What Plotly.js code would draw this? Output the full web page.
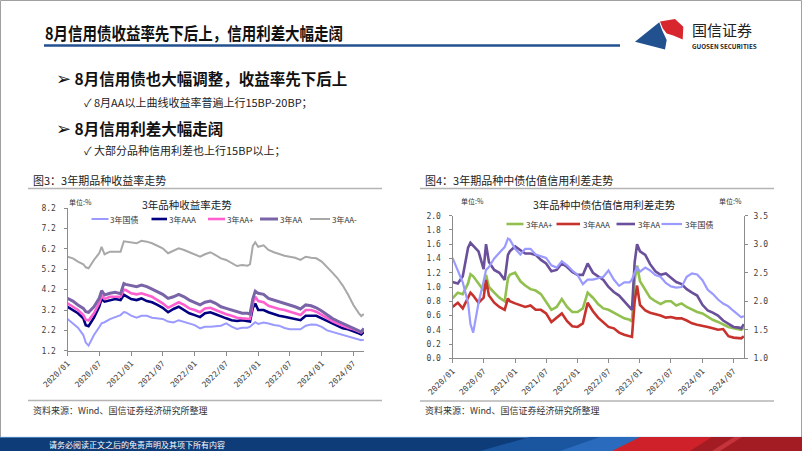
<!DOCTYPE html>
<html>
<head>
<meta charset="utf-8">
<script src="https://cdn.plot.ly/plotly-3.0.1.min.js"></script>
<style>html,body{margin:0;padding:0;background:#fff;}#chart{width:802px;height:451px;}</style>
</head>
<body>
<div id="chart"></div>
<script>
// ---------------- DATA ----------------
const dates = ['2020-01-01','2020-02-01','2020-03-01','2020-04-01','2020-04-15','2020-05-01','2020-06-01','2020-07-01','2020-07-15','2020-08-01','2020-09-01','2020-10-01','2020-11-01','2020-11-20','2020-12-01',
'2021-01-01','2021-02-01','2021-03-01','2021-04-01','2021-05-01','2021-06-01','2021-07-01','2021-08-01','2021-09-01','2021-10-01','2021-11-01','2021-12-01',
'2022-01-01','2022-02-01','2022-03-01','2022-04-01','2022-05-01','2022-06-01','2022-07-01','2022-08-01','2022-09-01','2022-10-01','2022-11-01','2022-11-15','2022-12-01','2022-12-15',
'2023-01-01','2023-02-01','2023-03-01','2023-04-01','2023-05-01','2023-06-01','2023-07-01','2023-08-01','2023-09-01','2023-10-01','2023-11-01','2023-12-01',
'2024-01-01','2024-02-01','2024-03-01','2024-04-01','2024-05-01','2024-06-01','2024-07-01','2024-08-01','2024-08-15','2024-08-30'];

// 3-year yields (%), left chart
const treasury3y = [2.76,2.54,2.33,1.97,1.6,1.45,1.97,2.35,2.55,2.6,2.75,2.85,2.95,3.1,3.08,
2.92,2.82,2.92,2.92,2.82,2.79,2.76,2.63,2.59,2.7,2.63,2.54,
2.46,2.3,2.38,2.38,2.41,2.43,2.54,2.38,2.27,2.33,2.33,2.38,2.5,2.6,
2.52,2.59,2.54,2.46,2.43,2.32,2.26,2.24,2.25,2.43,2.49,2.47,
2.37,2.2,2.13,2.03,1.96,1.91,1.83,1.75,1.72,1.74];
const yieldAAA = [3.36,3.2,3.04,2.79,2.45,2.4,2.82,3.36,3.75,3.61,3.69,3.74,3.69,3.95,3.9,
3.74,3.69,3.77,3.64,3.58,3.45,3.31,3.09,3.25,3.36,3.2,3.04,
2.95,2.85,3.04,3.09,2.99,2.87,2.79,2.7,2.66,2.7,2.63,2.63,3.3,3.52,
3.2,3.2,3.09,2.99,2.92,2.87,2.82,2.76,2.7,2.92,2.92,2.92,
2.79,2.66,2.54,2.43,2.3,2.25,2.17,2.05,2.0,2.13];
const yieldAAplus = [3.53,3.36,3.2,2.95,2.72,2.68,3.04,3.53,3.9,3.74,3.85,3.85,3.85,4.2,4.18,
4.02,3.97,4.02,3.94,3.85,3.69,3.53,3.31,3.45,3.58,3.45,3.28,
3.2,3.09,3.28,3.31,3.2,3.09,2.99,2.92,2.82,2.79,2.76,2.76,3.5,3.85,
3.64,3.58,3.41,3.31,3.25,3.2,3.12,3.04,2.95,3.2,3.2,3.12,
2.95,2.79,2.66,2.54,2.43,2.33,2.25,2.13,2.1,2.22];
const yieldAA = [3.77,3.64,3.45,3.28,3.12,3.09,3.36,3.77,4.15,3.94,4.02,4.07,4.0,4.5,4.46,
4.4,4.35,4.43,4.35,4.23,4.1,3.97,3.77,3.85,3.97,3.85,3.69,
3.58,3.45,3.58,3.64,3.53,3.36,3.28,3.2,3.09,3.04,3.04,3.0,3.75,4.13,
4.02,3.97,3.77,3.69,3.61,3.53,3.45,3.36,3.25,3.45,3.41,3.31,
3.15,2.95,2.79,2.66,2.54,2.41,2.3,2.17,2.13,2.3];
const yieldAAminus = [5.82,5.74,5.58,5.45,5.3,5.25,5.66,5.99,6.3,5.94,6.07,6.07,6.07,6.58,6.56,
6.51,6.48,6.6,6.56,6.48,6.36,6.23,5.99,6.1,6.23,6.15,6.04,
5.9,5.82,5.94,6.04,5.9,5.74,5.66,5.5,5.36,5.41,5.38,5.45,6.35,6.53,
6.31,6.38,6.15,6.04,5.94,5.87,5.82,5.77,5.66,5.82,5.77,5.74,
5.58,5.33,5.05,4.76,4.4,3.95,3.45,3.05,2.9,3.0];

// 3-year credit spreads (%), right chart
const spreadAAplus = [0.84,0.92,0.9,1.05,1.18,1.15,1.05,0.95,1.17,1.0,0.92,0.85,0.8,1.12,1.17,
1.2,1.08,1.02,0.97,0.95,0.9,0.8,0.68,0.72,0.83,0.72,0.65,
0.65,0.7,0.92,0.85,0.76,0.7,0.68,0.64,0.6,0.56,0.54,0.52,1.1,1.3,
1.08,0.95,0.85,0.8,0.76,0.8,0.8,0.74,0.77,0.72,0.68,0.65,
0.63,0.58,0.54,0.51,0.47,0.44,0.42,0.4,0.4,0.43];
const spreadAAA = [0.72,0.78,0.7,0.85,0.92,0.88,0.78,0.85,1.1,0.88,0.78,0.72,0.68,0.84,0.8,
0.77,0.74,0.72,0.74,0.68,0.68,0.63,0.51,0.57,0.63,0.52,0.45,
0.44,0.49,0.78,0.66,0.57,0.5,0.44,0.42,0.36,0.33,0.31,0.3,0.8,1.02,
0.75,0.67,0.64,0.62,0.6,0.57,0.58,0.56,0.56,0.53,0.49,0.47,
0.46,0.44,0.42,0.4,0.41,0.31,0.29,0.28,0.28,0.31];
const spreadAA = [1.07,1.05,1.15,1.55,1.62,1.58,1.5,1.25,1.6,1.35,1.24,1.2,1.1,1.45,1.5,
1.57,1.52,1.47,1.47,1.45,1.38,1.33,1.22,1.24,1.33,1.28,1.21,
1.17,1.17,1.33,1.2,1.15,1.1,1.0,0.93,0.88,0.8,0.72,0.68,1.35,1.6,
1.5,1.45,1.32,1.22,1.17,1.19,1.13,1.07,1.04,0.97,0.92,0.88,
0.75,0.67,0.64,0.6,0.53,0.48,0.44,0.43,0.42,0.48];

const leftNames = ['3年国债','3年AAA','3年AA+','3年AA','3年AA-'];
const rightNames = ['3年AA+','3年AAA','3年AA','3年国债'];
const leftYTicks = [1.2,2.2,3.2,4.2,5.2,6.2,7.2,8.2];
const rightYTicks = [0.0,0.2,0.4,0.6,0.8,1.0,1.2,1.4,1.6,1.8,2.0];
const right2YTicks = [1.0,1.5,2.0,2.5,3.0,3.5];

// ---------------- STYLE ----------------
const W = 802, H = 451;
const px = v => v / W;
const py = v => 1 - v / H;
const CJK = '"Noto Sans CJK SC", "DejaVu Sans", sans-serif';
const MONO = '"DejaVu Sans Mono", "Liberation Mono", monospace';

const leftColors = ['#9a9aff','#000080','#ff5fcf','#7a64a8','#a8a8a8'];
const leftWidths = [2, 2.6, 2.6, 3, 2];
const rightColors = ['#92c04f','#c8322d','#6a4f9b','#9a9aff'];
const rightWidths = [2.6, 2.6, 2.6, 2.2];

const leftSeries = [treasury3y, yieldAAA, yieldAAplus, yieldAA, yieldAAminus];
const rightSeries = [spreadAAplus, spreadAAA, spreadAA, treasury3y];

const traces = [];
leftSeries.forEach((s, i) => traces.push({
  x: dates, y: s, name: leftNames[i], xaxis: 'x', yaxis: 'y', mode: 'lines',
  line: {color: leftColors[i], width: leftWidths[i]}, hoverinfo: 'skip'
}));
rightSeries.forEach((s, i) => traces.push({
  x: dates, y: s, name: rightNames[i], xaxis: 'x2', yaxis: i === 3 ? 'y3' : 'y2', mode: 'lines',
  line: {color: rightColors[i], width: rightWidths[i]}, hoverinfo: 'skip'
}));

const tickFont = {family: MONO, size: 8, color: '#404040'};
const axisCommon = {showgrid: false, zeroline: false, showline: true, linecolor: '#8c8c8c', linewidth: 1,
  ticks: 'outside', ticklen: 3, tickcolor: '#8c8c8c', tickfont: tickFont, fixedrange: true};
const dateAxis = Object.assign({}, axisCommon, {type: 'date', range: ['2020-01-01', '2024-08-31'],
  tickmode: 'linear', tick0: '2020-01-01', dtick: 'M6', tickformat: '%Y/%m', tickangle: -45, ticklen: 4});

const layout = {
  width: W, height: H, margin: {l: 0, r: 0, t: 0, b: 0},
  paper_bgcolor: '#ffffff', plot_bgcolor: '#ffffff', showlegend: false,
  xaxis: Object.assign({}, dateAxis, {domain: [px(67.5), px(364)], anchor: 'y'}),
  yaxis: Object.assign({}, axisCommon, {domain: [py(350.7), py(208.3)], range: [1.2, 8.2], anchor: 'x',
    tickmode: 'array', tickvals: leftYTicks, tickformat: '.1f', ticklabelstandoff: 6}),
  xaxis2: Object.assign({}, dateAxis, {domain: [px(452.5), px(744)], anchor: 'y2'}),
  yaxis2: Object.assign({}, axisCommon, {domain: [py(358.3), py(215.7)], range: [0, 2], anchor: 'x2',
    tickmode: 'array', tickvals: rightYTicks, tickformat: '.1f', ticklabelstandoff: 6}),
  yaxis3: Object.assign({}, axisCommon, {range: [1, 3.5], anchor: 'x2', overlaying: 'y2', side: 'right',
    tickmode: 'array', tickvals: right2YTicks, tickformat: '.1f', ticklabelstandoff: 4}),
  annotations: [], shapes: []
};

function txt(text, x, y, size, color, anchor, bold) {
  layout.annotations.push({text: text, x: px(x), y: py(y), xref: 'paper', yref: 'paper',
    xanchor: anchor || 'left', yanchor: 'middle', align: anchor || 'left', showarrow: false, borderpad: 0,
    font: {family: CJK, size: size, color: color || '#222', weight: bold ? 'bold' : 'normal'}});
}
function line(x0, y0, x1, y1, color, width) {
  layout.shapes.push({type: 'line', xref: 'paper', yref: 'paper', x0: px(x0), y0: py(y0), x1: px(x1), y1: py(y1),
    line: {color: color, width: width}});
}
function poly(pts, fill) {
  const d = pts.map((p, i) => (i ? 'L' : 'M') + px(p[0]).toFixed(5) + ',' + py(p[1]).toFixed(5)).join(' ') + ' Z';
  layout.shapes.push({type: 'path', xref: 'paper', yref: 'paper', path: d, fillcolor: fill, line: {width: 0}});
}

// slide frame
layout.shapes.push({type: 'rect', xref: 'paper', yref: 'paper', x0: px(0.5), y0: py(450.5), x1: px(801.5), y1: py(0.5),
  line: {color: '#a0a0a0', width: 1}});

// header
const slideTitle = '8月信用债收益率先下后上，信用利差大幅走阔';
txt(slideTitle, 44, 32.5, 17.5, '#111', 'left', true);
line(44, 45.5, 620, 45.5, '#23508e', 2.6);
// logo
poly([[635, 41.7], [659.3, 22.3], [662, 30], [666.7, 40], [665, 49.5]], '#22518f');
poly([[660, 21.5], [675, 19], [683.3, 26.7], [682.7, 39.5], [673.3, 35.5], [666.7, 33.5], [662.7, 28.3]], '#d7262e');
txt('国信证券', 691, 29.5, 15, '#222', 'left', false);
txt('GUOSEN SECURITIES', 691, 46.5, 6.3, '#222', 'left', true);

// bullets
const arrow = '<span style="font-size:18px">➢</span>';
txt(arrow + ' 8月信用债也大幅调整，收益率先下后上', 55, 77, 15.5, '#111', 'left', true);
txt('✓ 8月AA以上曲线收益率普遍上行15BP-20BP；', 83, 101.5, 11, '#222', 'left', false);
txt(arrow + ' 8月信用利差大幅走阔', 55, 126.5, 15.5, '#111', 'left', true);
txt('✓ 大部分品种信用利差也上行15BP以上；', 83, 150, 11, '#222', 'left', false);

// figure headers / separators / sources
txt('图3：3年期品种收益率走势', 32, 180, 11, '#222');
txt('图4：3年期品种中债估值信用利差走势', 424, 180, 11, '#222');
line(28, 188.5, 382, 188.5, '#b4b4b4', 1.5);
line(420, 188.5, 774, 188.5, '#b4b4b4', 1.5);
line(28, 400.5, 382, 400.5, '#b4b4b4', 1.5);
line(420, 401, 774, 401, '#b4b4b4', 1.5);
txt('资料来源：Wind、国信证券经济研究所整理', 32, 410, 9, '#333');
txt('资料来源：Wind、国信证券经济研究所整理', 424, 410, 9, '#333');

// chart titles & units
txt('3年品种收益率走势', 187, 204, 10.5, '#222', 'center');
txt('单位:%', 68, 201.5, 7, '#333');
txt('3年品种中债估值信用利差走势', 604, 204, 10.5, '#222', 'center');
txt('单位:%', 460, 201, 7, '#333');
txt('单位:%', 718, 201, 7, '#333');

// legends (drawn manually)
const leftLeg = [[91.5, 108.5], [151.5, 167], [208, 225], [260, 278], [310, 330]];
leftNames.forEach((n, i) => {
  line(leftLeg[i][0], 219, leftLeg[i][1], 219, leftColors[i], leftWidths[i]);
  txt(n, leftLeg[i][1] + 1, 219, 8, '#333');
});
const rightLeg = [[506.5, 523.5], [556.5, 580], [616.5, 635], [661.5, 682]];
rightNames.forEach((n, i) => {
  line(rightLeg[i][0], 224, rightLeg[i][1], 224, rightColors[i], rightWidths[i]);
  txt(n, rightLeg[i][1] + 1.5, 224, 8, '#333');
});

// footer band
poly([[0, 437], [802, 437], [802, 451], [0, 451]], '#0d3c78');
line(0, 437.3, 802, 437.3, '#6aa4d8', 0.8);
poly([[480, 451], [530, 437], [640, 437], [600, 451]], '#1a55a0');
poly([[560, 451], [600, 437], [650, 437], [615, 451]], '#2a6bbd');
poly([[612, 451], [640, 437], [802, 437], [802, 451]], '#cf2129');
poly([[690, 451], [712, 437], [802, 437], [802, 451]], '#a31c24');
poly([[712, 451], [734, 437], [742, 437], [720, 451]], '#c4343a');
txt('请务必阅读正文之后的免责声明及其项下所有内容', 48, 444.5, 8, '#ffffff');

Plotly.newPlot('chart', traces, layout, {staticPlot: true, displayModeBar: false}).then(() => {
  // condense the slide title horizontally, as in the reference's narrow heading font
  document.querySelectorAll('.annotation-text').forEach(t => {
    if (t.textContent === slideTitle) {
      t.setAttribute('textLength', '298');
      t.setAttribute('lengthAdjust', 'spacingAndGlyphs');
    }
  });
});
</script>
</body>
</html>
